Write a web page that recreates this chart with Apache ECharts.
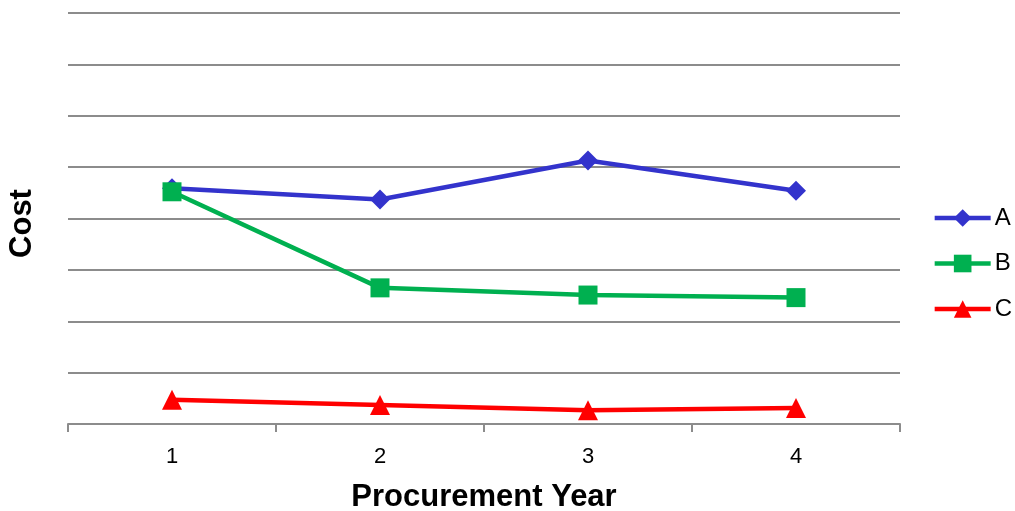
<!DOCTYPE html>
<html>
<head>
<meta charset="utf-8">
<script src="https://cdn.jsdelivr.net/npm/echarts@6/dist/echarts.min.js"></script>
<style>
  html, body { margin: 0; padding: 0; background: #fff; }
  #chart { width: 1015px; height: 511px; }
</style>
</head>
<body>
<div id="chart"></div>
<script>
// Procurement cost by year for three options
const years = ['1', '2', '3', '4'];
const costA = [4.59, 4.37, 5.13, 4.54];
const costB = [4.52, 2.65, 2.51, 2.46];
const costC = [0.47, 0.37, 0.27, 0.31];

const FONT = '"Liberation Sans", Arial, sans-serif';

const chart = echarts.init(document.getElementById('chart'));

function lineSeries(name, data, color, symbol, size) {
  return {
    name: name,
    type: 'line',
    data: data,
    symbol: symbol,
    symbolSize: size,
    showAllSymbol: true,
    lineStyle: { color: color, width: 4.5 },
    itemStyle: { color: color },
    emphasis: { disabled: true },
    animation: false
  };
}

chart.setOption({
  animation: false,
  grid: { left: 68, right: 115, top: 13, bottom: 87, containLabel: false, outerBoundsMode: 'none' },
  legend: {
    orient: 'vertical',
    right: 3,
    top: 206,
    padding: 0,
    itemWidth: 56,
    itemHeight: 22,
    itemGap: 21.5,
    lineStyle: { width: 4.5 },
    textStyle: { fontFamily: FONT, fontSize: 24, color: '#000', padding: [0, 0, 0, -1] },
    data: ['A', 'B', 'C']
  },
  xAxis: {
    type: 'category',
    data: years,
    boundaryGap: true,
    name: 'Procurement Year',
    nameLocation: 'middle',
    nameGap: 58,
    nameTextStyle: { fontFamily: FONT, fontSize: 31, fontWeight: 'bold', color: '#000' },
    axisLine: { lineStyle: { color: '#8c8c8c', width: 2 } },
    axisTick: { show: true, length: 8, lineStyle: { color: '#8c8c8c', width: 2 } },
    axisLabel: { fontFamily: FONT, fontSize: 22, color: '#000', margin: 22 }
  },
  yAxis: {
    type: 'value',
    min: 0,
    max: 8,
    interval: 1,
    name: 'Cost',
    nameLocation: 'middle',
    nameRotate: 90,
    nameGap: 30,
    nameTextStyle: { fontFamily: FONT, fontSize: 31, fontWeight: 'bold', color: '#000', padding: [0, 10, 0, 0] },
    axisLine: { show: false },
    axisTick: { show: false },
    axisLabel: { show: false },
    splitLine: { lineStyle: { color: '#8c8c8c', width: 2 } }
  },
  series: [
    lineSeries('A', costA, '#3333cc', 'diamond', 20),
    lineSeries('B', costB, '#00b050', 'rect', 19),
    lineSeries('C', costC, '#ff0000', 'triangle', 20)
  ]
});
</script>
</body>
</html>
